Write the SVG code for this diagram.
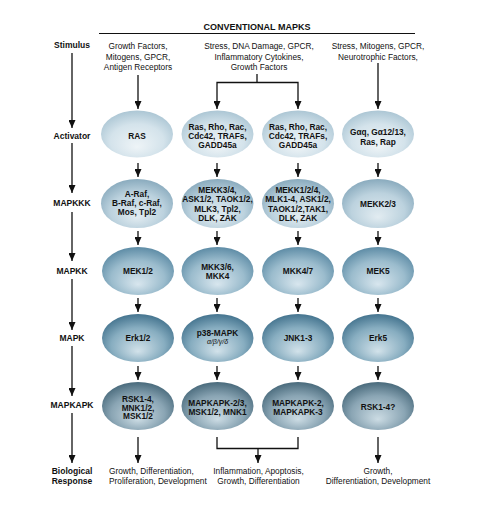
<svg xmlns="http://www.w3.org/2000/svg" width="481" height="515" viewBox="0 0 481 515">
<defs>
<radialGradient id="g1" cx="50%" cy="58%" r="62%" fx="50%" fy="78%">
<stop offset="0" stop-color="#eef4f7"/><stop offset="0.6" stop-color="#d4e3eb"/><stop offset="1" stop-color="#a6c2d1"/>
</radialGradient>
<radialGradient id="g2" cx="50%" cy="58%" r="62%" fx="50%" fy="78%">
<stop offset="0" stop-color="#e2ecf1"/><stop offset="0.6" stop-color="#bcd2de"/><stop offset="1" stop-color="#82a5b9"/>
</radialGradient>
<radialGradient id="g3" cx="50%" cy="58%" r="62%" fx="50%" fy="78%">
<stop offset="0" stop-color="#d8e6ee"/><stop offset="0.6" stop-color="#9bbccd"/><stop offset="1" stop-color="#5585a0"/>
</radialGradient>
<radialGradient id="g4" cx="50%" cy="58%" r="62%" fx="50%" fy="78%">
<stop offset="0" stop-color="#d2e2ea"/><stop offset="0.6" stop-color="#87adc0"/><stop offset="1" stop-color="#3b6c88"/>
</radialGradient>
<radialGradient id="g5" cx="50%" cy="58%" r="62%" fx="50%" fy="78%">
<stop offset="0" stop-color="#ccdce4"/><stop offset="0.6" stop-color="#8aa5b4"/><stop offset="1" stop-color="#406274"/>
</radialGradient>
<marker id="ah" markerWidth="8" markerHeight="7" refX="8" refY="3.5" orient="auto" markerUnits="userSpaceOnUse" viewBox="0 0 8 7">
<path d="M0,0 L8,3.5 L0,7 Z" fill="#111"/>
</marker>
</defs>
<style>
text{font-family:"Liberation Sans",Arial,sans-serif;fill:#111}
.hd{font-size:9px;font-weight:bold;text-anchor:middle}
.rl{font-size:8.5px;font-weight:bold;text-anchor:middle}
.st{font-size:8.3px;text-anchor:middle}
.bl{font-size:8.3px}
.nt{font-size:8.3px;font-weight:bold;text-anchor:middle}
.gk{font-size:7px;font-style:italic;text-anchor:middle}
.c line,.c polyline{stroke:#111;stroke-width:1.3;fill:none}
.a{marker-end:url(#ah)}
</style>

<g id="header">
<text class="hd" x="257" y="30">CONVENTIONAL MAPKS</text>
<line x1="99" y1="33.5" x2="415" y2="33.5" stroke="#111" stroke-width="1.2"/>
</g>

<g id="row-labels">
<text class="rl" x="72" y="48">Stimulus</text>
<text class="rl" x="72" y="139">Activator</text>
<text class="rl" x="72" y="206">MAPKKK</text>
<text class="rl" x="72" y="274">MAPKK</text>
<text class="rl" x="72" y="341">MAPK</text>
<text class="rl" x="72" y="408">MAPKAPK</text>
<text class="rl" x="72" y="474">Biological</text>
<text class="rl" x="72" y="484">Response</text>
</g>

<g id="stimuli">
<text class="st" x="138" y="49">Growth Factors,</text>
<text class="st" x="138" y="59.5">Mitogens, GPCR,</text>
<text class="st" x="138" y="70">Antigen Receptors</text>
<text class="st" x="259" y="49">Stress, DNA Damage, GPCR,</text>
<text class="st" x="259" y="59.5">Inflammatory Cytokines,</text>
<text class="st" x="259" y="70">Growth Factors</text>
<text class="st" x="378" y="49">Stress, Mitogens, GPCR,</text>
<text class="st" x="378" y="59.5">Neurotrophic Factors,</text>
</g>

<g id="connectors" class="c">
<line class="a" x1="72" y1="53" x2="72" y2="128"/>
<line class="a" x1="72" y1="143" x2="72" y2="193"/>
<line class="a" x1="72" y1="212" x2="72" y2="261"/>
<line class="a" x1="72" y1="279" x2="72" y2="330"/>
<line class="a" x1="72" y1="346" x2="72" y2="396"/>
<line class="a" x1="72" y1="413" x2="72" y2="463"/>

<line class="a" x1="138" y1="75" x2="138" y2="109"/>
<polyline points="257,74 257,82.5"/>
<polyline class="a" points="257,82.5 217,82.5 217,109"/>
<polyline class="a" points="257,82.5 298,82.5 298,109"/>
<line class="a" x1="378" y1="63" x2="378" y2="109"/>

<line class="a" x1="138" y1="163" x2="138" y2="177"/>
<line class="a" x1="217" y1="163" x2="217" y2="177"/>
<line class="a" x1="298" y1="163" x2="298" y2="177"/>
<line class="a" x1="378" y1="163" x2="378" y2="177"/>

<line class="a" x1="138" y1="231" x2="138" y2="245"/>
<line class="a" x1="217" y1="231" x2="217" y2="245"/>
<line class="a" x1="298" y1="231" x2="298" y2="245"/>
<line class="a" x1="378" y1="231" x2="378" y2="245"/>

<line class="a" x1="138" y1="298" x2="138" y2="312"/>
<line class="a" x1="217" y1="298" x2="217" y2="312"/>
<line class="a" x1="298" y1="298" x2="298" y2="312"/>
<line class="a" x1="378" y1="298" x2="378" y2="312"/>

<line class="a" x1="138" y1="366" x2="138" y2="380"/>
<line class="a" x1="217" y1="366" x2="217" y2="380"/>
<line class="a" x1="298" y1="366" x2="298" y2="380"/>
<line class="a" x1="378" y1="366" x2="378" y2="380"/>

<line class="a" x1="138" y1="437" x2="138" y2="463"/>
<polyline points="217,437 217,448.5 298,448.5 298,437"/>
<line class="a" x1="258" y1="448.5" x2="258" y2="463"/>
<line class="a" x1="378" y1="437" x2="378" y2="463"/>
</g>

<g id="act-ras">
<ellipse cx="137" cy="134" rx="36" ry="23.5" fill="url(#g1)"/>
<text class="nt" x="137" y="139">RAS</text>
</g>
<g id="act-ras-rho-1">
<ellipse cx="217.5" cy="134" rx="36" ry="23.5" fill="url(#g1)"/>
<text class="nt" x="217.5" y="129.5">Ras, Rho, Rac,</text>
<text class="nt" x="217.5" y="138.7">Cdc42, TRAFs,</text>
<text class="nt" x="217.5" y="147.9">GADD45a</text>
</g>
<g id="act-ras-rho-2">
<ellipse cx="298" cy="134" rx="36" ry="23.5" fill="url(#g1)"/>
<text class="nt" x="298" y="129.5">Ras, Rho, Rac,</text>
<text class="nt" x="298" y="138.7">Cdc42, TRAFs,</text>
<text class="nt" x="298" y="147.9">GADD45a</text>
</g>
<g id="act-galpha">
<ellipse cx="378" cy="134" rx="36" ry="23.5" fill="url(#g1)"/>
<text class="nt" x="378" y="135">Gαq, Gα12/13,</text>
<text class="nt" x="378" y="145">Ras, Rap</text>
</g>

<g id="mapkkk-raf">
<ellipse cx="137" cy="203.5" rx="36" ry="24.5" fill="url(#g2)"/>
<text class="nt" x="137" y="197">A-Raf,</text>
<text class="nt" x="137" y="206">B-Raf, c-Raf,</text>
<text class="nt" x="137" y="215">Mos, Tpl2</text>
</g>
<g id="mapkkk-mekk34">
<ellipse cx="217.5" cy="203.5" rx="36" ry="24.5" fill="url(#g2)"/>
<text class="nt" x="217.5" y="193">MEKK3/4,</text>
<text class="nt" x="217.5" y="202.3">ASK1/2, TAOK1/2,</text>
<text class="nt" x="217.5" y="211.6">MLK3, Tpl2,</text>
<text class="nt" x="217.5" y="220.9">DLK, ZAK</text>
</g>
<g id="mapkkk-mekk124">
<ellipse cx="298" cy="203.5" rx="36" ry="24.5" fill="url(#g2)"/>
<text class="nt" x="298" y="193">MEKK1/2/4,</text>
<text class="nt" x="298" y="202.3">MLK1-4, ASK1/2,</text>
<text class="nt" x="298" y="211.6">TAOK1/2,TAK1,</text>
<text class="nt" x="298" y="220.9">DLK, ZAK</text>
</g>
<g id="mapkkk-mekk23">
<ellipse cx="378" cy="203.5" rx="36" ry="24.5" fill="url(#g2)"/>
<text class="nt" x="378" y="206.5">MEKK2/3</text>
</g>

<g id="mapkk-mek12">
<ellipse cx="138" cy="271" rx="36" ry="24" fill="url(#g3)"/>
<text class="nt" x="138" y="274">MEK1/2</text>
</g>
<g id="mapkk-mkk36">
<ellipse cx="217.5" cy="271" rx="36" ry="24" fill="url(#g3)"/>
<text class="nt" x="217.5" y="269.5">MKK3/6,</text>
<text class="nt" x="217.5" y="279">MKK4</text>
</g>
<g id="mapkk-mkk47">
<ellipse cx="298" cy="271" rx="36" ry="24" fill="url(#g3)"/>
<text class="nt" x="298" y="274">MKK4/7</text>
</g>
<g id="mapkk-mek5">
<ellipse cx="378" cy="271" rx="36" ry="24" fill="url(#g3)"/>
<text class="nt" x="378" y="274">MEK5</text>
</g>

<g id="mapk-erk12">
<ellipse cx="138" cy="338" rx="36" ry="24" fill="url(#g4)"/>
<text class="nt" x="138" y="341">Erk1/2</text>
</g>
<g id="mapk-p38">
<ellipse cx="217.5" cy="338" rx="36" ry="24" fill="url(#g4)"/>
<text class="nt" x="217.5" y="336">p38-MAPK</text>
<text class="gk" x="217.5" y="344">α/β/γ/δ</text>
</g>
<g id="mapk-jnk">
<ellipse cx="298" cy="338" rx="36" ry="24" fill="url(#g4)"/>
<text class="nt" x="298" y="341">JNK1-3</text>
</g>
<g id="mapk-erk5">
<ellipse cx="378" cy="338" rx="36" ry="24" fill="url(#g4)"/>
<text class="nt" x="378" y="341">Erk5</text>
</g>

<g id="mapkapk-rsk">
<ellipse cx="138" cy="406" rx="36" ry="24" fill="url(#g5)"/>
<text class="nt" x="138" y="402">RSK1-4,</text>
<text class="nt" x="138" y="410.5">MNK1/2,</text>
<text class="nt" x="138" y="419">MSK1/2</text>
</g>
<g id="mapkapk-23">
<ellipse cx="217.5" cy="406" rx="36" ry="24" fill="url(#g5)"/>
<text class="nt" x="217.5" y="406">MAPKAPK-2/3,</text>
<text class="nt" x="217.5" y="415">MSK1/2, MNK1</text>
</g>
<g id="mapkapk-2-3">
<ellipse cx="298" cy="406" rx="36" ry="24" fill="url(#g5)"/>
<text class="nt" x="298" y="406">MAPKAPK-2,</text>
<text class="nt" x="298" y="415">MAPKAPK-3</text>
</g>
<g id="mapkapk-rsk4">
<ellipse cx="378" cy="406" rx="36" ry="24" fill="url(#g5)"/>
<text class="nt" x="378" y="410">RSK1-4?</text>
</g>

<g id="responses">
<text class="bl" x="109" y="474">Growth, Differentiation,</text>
<text class="bl" x="109" y="484">Proliferation, Development</text>
<text class="st" x="258.5" y="474">Inflammation, Apoptosis,</text>
<text class="st" x="258.5" y="484">Growth, Differentiation</text>
<text class="st" x="378" y="474">Growth,</text>
<text class="st" x="378" y="484">Differentiation, Development</text>
</g>
</svg>
